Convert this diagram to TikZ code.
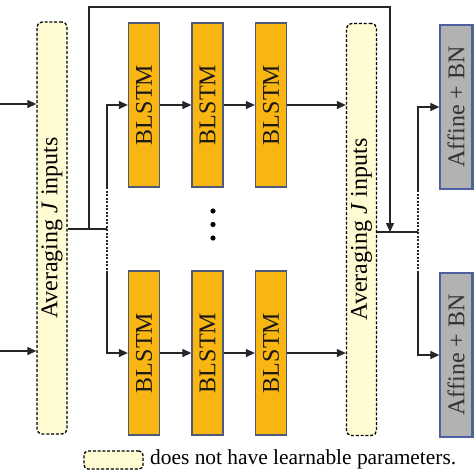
\documentclass[tikz,border=0pt]{standalone}
\usepackage{fontspec}
\IfFontExistsTF{LiberationSerif-Regular.ttf}{%
  \newfontfamily\tnr{LiberationSerif-Regular.ttf}[ItalicFont=LiberationSerif-Italic.ttf]}{%
  \newfontfamily\tnr{Latin Modern Roman}}
\usetikzlibrary{arrows.meta}
\definecolor{avgfill}{HTML}{FFFBD2}
\definecolor{blfill}{HTML}{F9B511}
\definecolor{bldraw}{HTML}{4E5A7A}
\definecolor{affill}{HTML}{B2B2B2}
\definecolor{afdraw}{HTML}{4F5FA0}
\definecolor{tealc}{HTML}{3E7A6C}
\tikzset{
  avgbox/.style={draw=black, fill=avgfill, rounded corners=5pt, dash pattern=on 3pt off 1.8pt, line width=1.3pt, minimum width=30pt, minimum height=412pt, inner sep=0pt},
  blbox/.style={draw=bldraw, fill=blfill, line width=1.3pt, minimum width=31pt, minimum height=164pt, inner sep=0pt},
  afbox/.style={draw=afdraw, fill=affill, line width=1.3pt, minimum width=32pt, minimum height=164pt, inner sep=0pt},
  tlbox/.style={draw=afdraw, fill=tealc, line width=1.3pt, minimum width=30pt, minimum height=164pt, inner sep=0pt},
  lbl/.style={font=\tnr\fontsize{24}{28}\selectfont},
  leglbl/.style={font=\tnr\fontsize{21.4}{25}\selectfont},
  conn/.style={line width=1.2pt, draw=black!85},
  arr/.style={conn, -{Triangle[length=9pt,width=8pt]}},
  dconn/.style={line width=1.1pt, draw=black!85, dash pattern=on 2pt off 1.5pt},
}
\begin{document}
\begin{tikzpicture}[x=1pt,y=-1pt]
\useasboundingbox (0,0) rectangle (474,474);
% teal boxes partially visible at right
\node[tlbox] (t1) at (487,107) {};
\node[tlbox] (t2) at (487,355) {};
% averaging boxes
\node[avgbox] (avg1) at (52,228) {};
\node[lbl, rotate=90] (avg1t) at (avg1.center) {Averaging \textit{J} inputs};
\node[avgbox] (avg2) at (361.5,229.5) {};
\node[lbl, rotate=90] (avg2t) at (avg2.center) {Averaging \textit{J} inputs};
% BLSTM boxes
\node[blbox] (b11) at (144,105) {};
\node[blbox] (b12) at (207.5,105) {};
\node[blbox] (b13) at (271,105) {};
\node[blbox] (b21) at (144,353) {};
\node[blbox] (b22) at (207.5,353) {};
\node[blbox] (b23) at (271,353) {};
\foreach \n in {b11,b12,b13,b21,b22,b23}{
  \node[lbl, rotate=90, text=black!90] at (\n.center) {BLSTM};
}
% affine boxes
\node[afbox] (aff1) at (456,107) {};
\node[lbl, rotate=90, text=black!80] (aff1t) at (aff1.center) {Affine + BN};
\node[afbox] (aff2) at (456,355) {};
\node[lbl, rotate=90, text=black!80] (aff2t) at (aff2.center) {Affine + BN};
% dots
\foreach \yy in {211,224.5,238}{ \fill (213,\yy) circle (2.6pt); }
% coordinates
\coordinate (in1) at (0,104);
\coordinate (in2) at (0,351);
\coordinate (j1) at (107,229);
\coordinate (s1) at (89,229);
\coordinate (c1) at (89,7);
\coordinate (c2) at (390,7);
\coordinate (m2) at (390,232);
\coordinate (j2) at (418,232);
\coordinate (u1) at (107,187);
\coordinate (d1) at (107,271);
\coordinate (u2) at (418,190);
\coordinate (d2) at (418,273);
% inputs
\draw[arr] (in1) -- (avg1.west |- in1);
\draw[arr] (in2) -- (avg1.west |- in2);
% avg1 output
\draw[conn] (avg1.east |- j1) -- (j1);
\draw[arr] (u1) |- (b11.west);
\draw[dconn] (u1) -- (d1);
\draw[arr] (d1) |- (b21.west);
% skip path
\draw[arr] (s1) -- (c1) -- (c2) -- (m2);
% chains
\draw[arr] (b11) -- (b12);
\draw[arr] (b12) -- (b13);
\draw[arr] (b13.east) -- (avg2.west |- b13.east);
\draw[arr] (b21) -- (b22);
\draw[arr] (b22) -- (b23);
\draw[arr] (b23.east) -- (avg2.west |- b23.east);
% avg2 output
\draw[conn] (avg2.east |- j2) -- (j2);
\draw[arr] (u2) |- (aff1.west);
\draw[dconn] (u2) -- (d2);
\draw[arr] (d2) |- (aff2.west);
% legend
\node[avgbox, minimum width=59pt, minimum height=18pt, rounded corners=4pt] (leg) at (113.5,460) {};
\node[leglbl, anchor=west, inner sep=0pt] (legt) at (150,459.5) {does not have learnable parameters.};
\end{tikzpicture}
\end{document}
